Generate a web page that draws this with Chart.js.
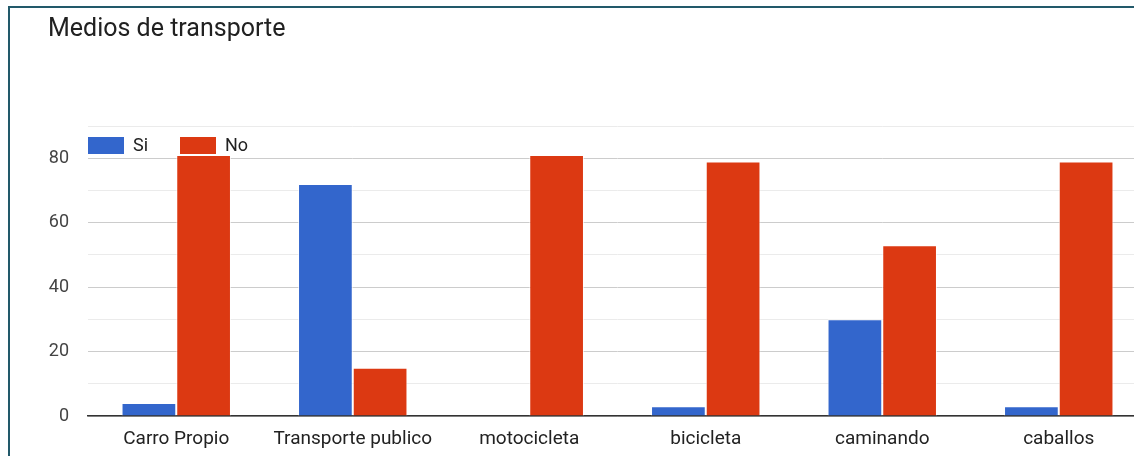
<!DOCTYPE html>
<html>
<head>
<meta charset="utf-8">
<script src="https://cdn.jsdelivr.net/npm/chart.js@4"></script>
<style>
  html, body { margin: 0; padding: 0; background: #fff; overflow: hidden; }
  .frame {
    position: absolute; left: 8px; top: 6px; width: 1200px; height: 500px;
    border-left: 2px solid #22596a; border-top: 2px solid #22596a;
  }
  .chart-container { position: absolute; left: 0; top: 0; width: 1150px; height: 456px; }
</style>
</head>
<body>
<div class="frame"></div>
<div class="chart-container"><canvas id="chart-1"></canvas></div>
<script>
const categories = ['Carro Propio', 'Transporte publico', 'motocicleta', 'bicicleta', 'caminando', 'caballos'];
const siValues = [4, 72, 0, 3, 30, 3];
const noValues = [81, 15, 81, 79, 53, 79];
const seriesLabels = ['Si', 'No'];
const yTickLabels = [0, 20, 40, 60, 80];

const blue = '#3366cc';
const red = '#dc3912';

// legend sits inside the plot area, like the original
const insideLegend = {
  id: 'insideLegend',
  afterDraw(chart) {
    const ctx = chart.ctx;
    const left = chart.chartArea.left;
    const top = chart.chartArea.top;
    ctx.save();
    ctx.font = '18px Roboto';
    ctx.textBaseline = 'middle';
    let x = left;
    chart.data.datasets.forEach((ds) => {
      ctx.fillStyle = ds.backgroundColor;
      ctx.fillRect(x, top + 11, 36, 17);
      ctx.fillStyle = '#222';
      ctx.fillText(ds.label, x + 45, top + 20);
      x += 92;
    });
    ctx.restore();
  },
};

const donutChart = document.getElementById('chart-1');

new Chart(donutChart, {
  type: 'bar',
  data: {
    labels: categories,
    datasets: [
      {
        label: seriesLabels[0],
        data: siValues,
        backgroundColor: blue,
        borderColor: 'rgba(255,255,255,0.7)',
        borderWidth: 1,
      },
      {
        label: seriesLabels[1],
        data: noValues,
        backgroundColor: red,
        borderColor: 'rgba(255,255,255,0.7)',
        borderWidth: 1,
      },
    ],
  },
  options: {
    responsive: true,
    maintainAspectRatio: false,
    animation: false,
    layout: { padding: { left: 48, right: 3, top: 0, bottom: 0 } },
    datasets: { bar: { categoryPercentage: 0.62, barPercentage: 1 } },
    plugins: {
      legend: { display: false },
      tooltip: { enabled: false },
      title: {
        display: true,
        text: 'Medios de transporte',
        align: 'start',
        color: '#212121',
        font: { family: 'Roboto', size: 25, weight: '400' },
        padding: { top: 15, bottom: 81 },
      },
    },
    scales: {
      x: {
        grid: { display: false },
        border: { color: '#333', width: 1.5 },
        ticks: {
          color: '#222',
          font: { family: 'Roboto', size: 19 },
          padding: 4,
          maxRotation: 0,
          autoSkip: false,
        },
        afterFit: (scale) => { scale.height = 40; },
      },
      y: {
        min: 0,
        max: 90,
        border: { display: false },
        grid: {
          drawTicks: false,
          color: (c) => (yTickLabels.includes(c.tick.value) ? '#cccccc' : '#ebebeb'),
          lineWidth: 1,
        },
        ticks: {
          stepSize: 10,
          padding: 19,
          color: '#444',
          font: { family: 'Roboto', size: 18 },
          callback: (v) => (yTickLabels.includes(v) ? v : ''),
        },
        afterFit: (scale) => { scale.width = 40; },
      },
    },
  },
  plugins: [insideLegend],
});
</script>
</body>
</html>
